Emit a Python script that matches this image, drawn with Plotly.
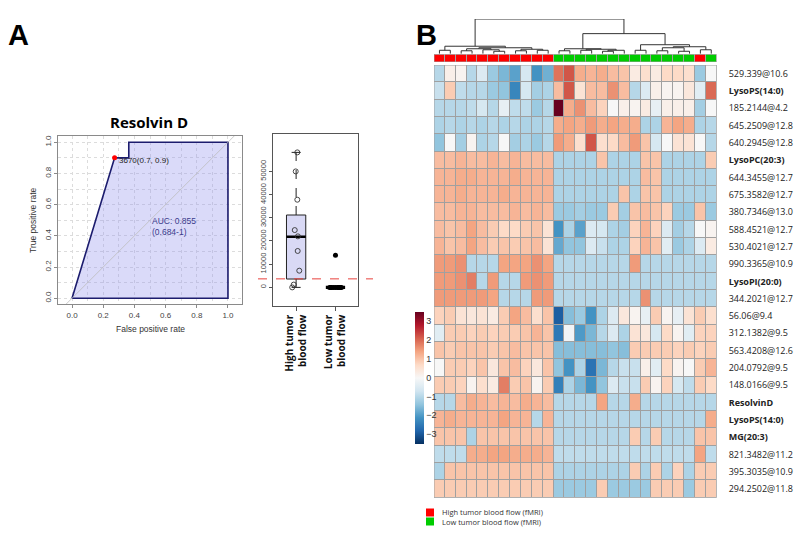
import plotly.graph_objects as go

W, H = 800, 539

# ---------------- Data: ROC (panel A) ----------------
roc_fpr = [0.0, 0.273, 0.364, 0.364, 1.0]
roc_tpr = [0.0, 0.9, 0.9, 1.0, 1.0]
best_fpr = 0.273
best_tpr = 0.9
best_label = "3670(0.7, 0.9)"
auc_text = "AUC: 0.855<br>(0.684-1)"
roc_ticks = [0.0, 0.2, 0.4, 0.6, 0.8, 1.0]

# ---------------- Data: box plot (panel A) ----------------
box_groups = ["High tumor<br>blood flow", "Low tumor<br>blood flow"]
high_stats = dict(lo=0, q1=3600, med=21800, q3=31200, hi=58200)
low_stats = dict(lo=0, q1=0, med=0, q3=0, hi=0)
high_values = [58200, 50000, 37800, 24700, 22000, 15700, 7200, 0, 1200]
high_jitter = [0.03, -0.01, 0.03, -0.035, 0.045, 0.04, 0.08, -0.1, -0.06]
low_values = [0, 0, 0, 0, 0, 0, 0, 0, 0, 0, 13800]
low_jitter = [-0.15, -0.1, -0.05, 0.0, 0.05, 0.1, 0.15, -0.12, 0.08, 0.12, 0.0]
threshold = 3670
box_yticks = [0, 10000, 20000, 30000, 40000, 50000]

# ---------------- Data: heatmap (panel B) ----------------
row_labels = ["529.339@10.6", "<b>LysoPS(14:0)</b>", "185.2144@4.2", "645.2509@12.8",
              "640.2945@12.8", "<b>LysoPC(20:3)</b>", "644.3455@12.7", "675.3582@12.7",
              "380.7346@13.0", "588.4521@12.7", "530.4021@12.7", "990.3365@10.9",
              "<b>LysoPI(20:0)</b>", "344.2021@12.7", "56.06@9.4", "312.1382@9.5",
              "563.4208@12.6", "204.0792@9.5", "148.0166@9.5", "<b>ResolvinD</b>",
              "<b>LysoPS(14:0)</b>", "<b>MG(20:3)</b>", "821.3482@11.2", "395.3035@10.9",
              "294.2502@11.8"]

sample_groups = ["High", "High", "High", "High", "High", "High", "High", "High", "High", "High", "High",
                 "Low", "Low", "Low", "Low", "Low", "Low", "Low", "Low", "Low", "Low", "Low", "Low", "Low",
                 "High", "Low"]

heat_values = [
    [-1.0, 0.2, 0.1, -1.0, -0.5, -1.3, -1.6, -1.9, -0.6, -2.1, -1.7, 1.9, 2.2, 1.3, 1.2, 1.3, 1.1, 1.0, 0.3, 0.6, 0.3, 0.7, 0.7, 0.6, -1.3, 0.0],
    [-0.8, 0.9, -0.9, -1.0, -1.0, -1.3, -1.4, -2.3, -0.6, -1.2, -1.1, 1.1, 2.2, 0.5, 1.1, 1.1, 1.6, 1.1, -1.0, -0.5, 0.2, 0.1, 0.1, 0.4, -0.4, 2.0],
    [-1.0, -1.0, -1.0, -0.9, -0.6, -1.0, -0.3, -0.9, -0.9, -1.3, -1.0, 3.5, 1.3, 1.6, 1.1, 0.8, 0.0, 0.2, 0.1, 0.3, -0.3, 0.2, 0.2, 0.2, -1.2, 0.0],
    [-1.1, -1.0, -1.1, -1.0, -1.1, -1.0, -1.1, -1.0, -1.1, -1.1, -1.0, 1.3, 1.4, 1.3, 1.5, 1.3, 1.4, 1.3, 1.3, -1.1, -1.1, 1.2, 1.4, 1.3, -1.1, -1.0],
    [-1.4, 0.0, -1.2, 0.1, -1.1, -1.0, 0.0, -1.2, -1.1, -1.3, -1.0, 1.5, 1.3, 0.6, 2.2, 0.6, 0.7, 1.1, 1.5, 1.0, -0.6, 0.0, 0.5, 0.5, 0.0, -1.0],
    [1.1, 1.1, 1.2, 1.1, 1.1, 1.2, 1.1, 1.2, 1.1, 1.1, 1.1, -1.1, -1.1, -1.1, -1.1, 1.0, -1.1, -1.1, -1.1, 1.0, 1.0, -1.1, -1.1, -1.1, -1.1, 0.9],
    [1.2, 1.2, 1.3, 1.3, 1.2, 1.2, 1.2, 1.3, 1.2, 1.2, 1.2, -1.1, -1.1, -1.1, -1.1, -1.1, -1.1, -1.1, -1.1, 1.1, 1.0, -1.1, -1.1, -1.1, -1.1, -1.1],
    [1.2, 1.2, 1.3, 1.2, 1.2, 1.2, 1.3, 1.2, 1.2, 1.2, 1.2, -1.1, -1.1, -1.1, -1.1, -1.1, -1.1, 1.0, -1.1, 1.0, 1.0, -1.1, -1.1, -1.1, -1.1, -1.1],
    [1.1, 1.1, 1.2, 1.2, 1.1, 1.1, 1.1, 1.2, 1.1, 1.2, 1.1, -1.3, -1.3, -1.2, -1.3, -1.3, 0.9, -1.2, 1.0, 1.1, 1.0, 0.8, -1.3, -1.3, 1.0, -1.3],
    [1.1, 1.0, 1.1, 1.4, 1.1, 0.9, 0.7, 0.7, 0.9, 1.0, 0.5, -2.1, -1.1, -1.9, -0.5, -0.6, -1.1, -1.2, 0.8, 1.2, 0.8, -0.5, -1.2, -1.0, 0.0, 0.1],
    [1.2, 1.0, 1.1, 1.4, 1.1, 0.9, 1.0, 0.9, 1.0, 1.1, 0.5, -1.8, -1.4, -1.4, -0.5, -0.8, -1.1, -1.1, 0.8, 1.2, 1.0, -0.4, -1.3, -1.1, -0.5, 0.3],
    [1.5, 1.5, 1.6, -1.0, -1.0, -1.0, 1.4, 1.4, 1.4, 1.6, 1.4, -1.0, -1.0, -1.0, -1.0, -1.0, -1.0, -1.0, 1.5, -1.0, -1.0, -1.0, -1.0, -1.0, -1.0, -1.0],
    [1.5, 1.5, 1.6, 1.8, -1.0, 1.5, -1.0, -1.0, 1.5, 1.6, 1.5, -1.0, -1.0, -1.0, -1.0, -1.0, -1.0, -1.0, -1.0, -1.0, -1.0, -1.0, -1.0, -1.0, -1.0, -1.0],
    [1.5, 1.5, 1.5, 1.5, 1.5, 1.4, -1.0, -1.0, -1.0, 1.5, 1.5, -1.0, -1.0, -1.0, -1.0, -1.0, -1.0, -1.0, -1.0, 1.6, -1.0, -1.0, -1.0, -1.0, -1.0, -1.0],
    [0.8, 0.9, 0.5, 0.4, 0.5, 0.3, 0.9, 1.4, 1.1, 0.6, 1.0, -2.9, -1.5, -1.3, -2.1, -1.1, -0.5, 0.4, 0.1, -0.3, 0.9, 0.1, -0.3, 0.5, 0.9, 0.6],
    [-0.4, 0.9, 0.9, 0.8, 0.9, 0.8, 0.9, 0.9, 1.0, 1.2, 1.0, -2.5, -0.1, -2.0, -1.6, -1.0, -0.5, -1.1, 0.5, 0.4, -0.6, 0.7, 0.1, -0.4, 0.8, 0.8],
    [1.0, 0.9, 1.0, 1.0, 1.0, 0.9, 1.0, 1.1, 1.0, 1.0, 1.0, -1.5, -1.5, -1.5, -1.5, -1.5, -1.4, -1.5, 0.9, 0.9, 0.9, 0.9, 0.8, 0.9, 0.8, 0.9],
    [0.0, 0.9, 0.9, 0.8, 1.0, 0.4, 1.0, 1.1, 0.8, 0.4, 1.0, -1.4, -2.1, -1.1, -2.6, -1.6, -1.0, -0.8, -0.8, 0.2, -0.4, 0.7, 0.1, 0.0, 0.9, 1.2],
    [0.9, 0.9, 0.8, 0.1, 0.6, 0.3, 1.8, 0.9, 1.0, 0.1, 0.9, -2.4, -1.1, -1.6, -2.1, -1.4, -0.5, -0.8, -0.8, 0.9, 0.1, 0.8, -0.6, -0.9, 0.9, 0.7],
    [-1.0, -1.0, 1.1, 1.3, 1.2, 1.1, 1.2, 1.1, 1.3, 1.2, 1.1, -1.0, -1.0, -1.0, -1.0, 1.4, -1.0, -1.0, 1.3, -1.0, -1.0, -1.0, -1.0, -1.0, -1.0, -1.0],
    [1.2, 1.3, 1.2, 1.2, 1.2, 1.2, 1.4, 1.2, 1.2, -1.0, 1.2, -1.0, -1.0, -1.0, -1.0, -1.0, -1.0, -1.0, -1.0, -1.0, -1.0, -1.0, -1.0, -1.0, -1.0, 1.3],
    [1.0, 1.0, 1.0, -1.1, 1.0, 1.0, 1.0, 1.0, 1.0, 1.0, 1.0, -1.0, -1.0, -1.0, -1.0, -1.0, -1.0, -1.0, 0.9, -1.0, 0.9, -1.0, -1.0, -1.0, 1.0, 1.0],
    [-0.9, -0.9, -0.9, 1.3, 1.3, 1.4, 1.4, 1.3, 1.3, 1.3, 1.2, -0.9, -0.9, -0.9, -0.9, -0.9, -0.9, -0.9, -0.9, -0.9, -0.9, -0.9, -0.9, -0.9, 1.4, -0.9],
    [-1.1, 1.0, 1.0, 1.0, 1.0, 1.0, 1.0, 1.0, 1.0, 1.0, 1.0, -1.1, -1.1, -1.1, -1.1, -1.1, -1.1, -1.1, 0.9, -1.1, 0.9, -1.1, 0.8, -1.1, 0.9, 0.9],
    [0.9, 0.9, 0.9, 0.9, 0.9, 0.9, 0.9, 0.9, 0.9, 0.9, 0.9, -1.3, -1.3, -1.3, -1.3, 0.9, -1.3, -1.3, -1.3, -1.3, 0.9, 0.9, 0.9, -1.3, 0.9, 0.9],
]

# column dendrogram: (child_a, child_b, merge height); leaves are 0..25, new nodes 26, 27, ...
dendro_merges = [
    (0, 1, 3.5), (2, 3, 3.0), (5, 6, 2.5), (4, 28, 4.0), (7, 8, 3.0), (9, 10, 3.5),
    (27, 29, 5.0), (30, 31, 4.5), (32, 33, 6.0), (26, 34, 7.5),
    (11, 12, 3.0), (13, 14, 3.5), (15, 16, 2.5), (38, 17, 3.5), (37, 39, 4.5), (36, 40, 5.0),
    (18, 19, 3.5), (20, 21, 3.0), (22, 23, 2.5), (43, 44, 6.0), (24, 25, 4.0), (45, 46, 7.0),
    (42, 47, 9.0), (41, 48, 20.0), (35, 49, 34.5),
]

colorbar_ticks = [-3, -2, -1, 0, 1, 2, 3]
legend_labels = ["High tumor blood flow (fMRI)", "Low tumor blood flow (fMRI)"]
group_colors = {"High": "#FF0000", "Low": "#00CC00"}

# ---------------- helpers ----------------
def px_x(p):
    return p / W

def px_y(p):
    return 1 - p / H

RDBU = ["#053061", "#2166AC", "#4393C3", "#92C5DE", "#D1E5F0", "#F7F7F7",
        "#FDDBC7", "#F4A582", "#D6604D", "#B2182B", "#67001F"]
rdbu_scale = [[i / (len(RDBU) - 1), c] for i, c in enumerate(RDBU)]

SANS = "Liberation Sans, Arial, sans-serif"
CAL = "Open Sans, sans-serif"
GRID = "#dcdcdc"

fig = go.Figure()

# ---------------- ROC ----------------
poly_x = roc_fpr + [roc_fpr[-1], roc_fpr[0]]
poly_y = roc_tpr + [0.0, 0.0]
fig.add_trace(go.Scatter(x=poly_x, y=poly_y, mode="lines", fill="toself",
                         fillcolor="rgba(150,150,238,0.35)",
                         line=dict(color="#1c1c6e", width=1.6),
                         xaxis="x", yaxis="y", hoverinfo="skip"))
fig.add_trace(go.Scatter(x=[-0.3, 1.3], y=[-0.3, 1.3], mode="lines",
                         line=dict(color="#bdbdbd", width=0.8),
                         xaxis="x", yaxis="y", hoverinfo="skip"))
fig.add_trace(go.Scatter(x=[best_fpr], y=[best_tpr], mode="markers",
                         marker=dict(color="#ff0000", size=5),
                         xaxis="x", yaxis="y", hoverinfo="skip"))

# ---------------- box plot ----------------
bw = 0.245
cap = 0.115
hs = high_stats
fig.add_trace(go.Scatter(x=[-bw, bw, bw, -bw, -bw], y=[hs["q1"], hs["q1"], hs["q3"], hs["q3"], hs["q1"]],
                         mode="lines", fill="toself", fillcolor="#d9d9f5",
                         line=dict(color="#222", width=1), xaxis="x2", yaxis="y2", hoverinfo="skip"))
fig.add_trace(go.Scatter(x=[0, 0, None, 0, 0], y=[hs["q3"], hs["hi"], None, hs["q1"], hs["lo"]],
                         mode="lines", line=dict(color="#222", width=1, dash="dash"),
                         xaxis="x2", yaxis="y2", hoverinfo="skip"))
fig.add_trace(go.Scatter(x=[-cap, cap, None, -cap, cap], y=[hs["hi"], hs["hi"], None, hs["lo"], hs["lo"]],
                         mode="lines", line=dict(color="#222", width=1),
                         xaxis="x2", yaxis="y2", hoverinfo="skip"))
fig.add_trace(go.Scatter(x=[-bw, bw], y=[hs["med"], hs["med"]], mode="lines",
                         line=dict(color="#000", width=2.6), xaxis="x2", yaxis="y2", hoverinfo="skip"))
ls = low_stats
fig.add_trace(go.Scatter(x=[1 - bw, 1 + bw], y=[ls["med"], ls["med"]], mode="lines",
                         line=dict(color="#000", width=3.2), xaxis="x2", yaxis="y2", hoverinfo="skip"))
fig.add_trace(go.Scatter(x=[j for j in high_jitter], y=high_values, mode="markers",
                         marker=dict(symbol="circle-open", size=5, color="#333", line=dict(width=0.9)),
                         xaxis="x2", yaxis="y2", hoverinfo="skip"))
fig.add_trace(go.Scatter(x=[1 + j for j in low_jitter], y=low_values, mode="markers",
                         marker=dict(symbol="circle", size=5, color="#000"),
                         xaxis="x2", yaxis="y2", hoverinfo="skip"))

# ---------------- dendrogram ----------------
n_cols = len(sample_groups)
pos = {i: float(i) for i in range(n_cols)}
hgt = {i: 0.0 for i in range(n_cols)}
dx, dy = [], []
node = n_cols
for a, b, h in dendro_merges:
    dx += [pos[a], pos[a], pos[b], pos[b], None]
    dy += [hgt[a], h, h, hgt[b], None]
    pos[node] = (pos[a] + pos[b]) / 2
    hgt[node] = h
    node += 1
fig.add_trace(go.Scatter(x=dx, y=dy, mode="lines", line=dict(color="#333", width=1),
                         xaxis="x3", yaxis="y3", hoverinfo="skip"))

# ---------------- annotation bar ----------------
grp_code = [0 if g == "High" else 1 for g in sample_groups]
fig.add_trace(go.Heatmap(z=[grp_code], x=list(range(n_cols)), y=[0],
                         colorscale=[[0, group_colors["High"]], [0.5, group_colors["High"]],
                                     [0.5, group_colors["Low"]], [1, group_colors["Low"]]],
                         zmin=0, zmax=1, showscale=False, xgap=1, ygap=0,
                         xaxis="x4", yaxis="y4", hoverinfo="skip"))

# ---------------- heatmap ----------------
n_rows = len(row_labels)
fig.add_trace(go.Heatmap(z=heat_values, x=list(range(n_cols)), y=list(range(n_rows)),
                         colorscale=rdbu_scale, zmin=-3.5, zmax=3.5, xgap=1, ygap=1,
                         xaxis="x5", yaxis="y5", hoverinfo="skip",
                         colorbar=dict(x=px_x(415), xanchor="left", xpad=0, ypad=0,
                                       y=px_y(377.5), yanchor="middle",
                                       len=131.6 / H, lenmode="fraction", thickness=9,
                                       outlinewidth=0, tickvals=colorbar_ticks, ticks="",
                                       tickfont=dict(family=SANS, size=9, color="#333"))))

# ---------------- layout ----------------
hx0, hx1 = px_x(434), px_x(716.7)
hide = dict(visible=False)

shapes = [
    dict(type="rect", xref="x5", yref="y5", x0=-0.5, x1=n_cols - 0.5, y0=-0.5, y1=n_rows - 0.5,
         fillcolor="#a0a0a0", line=dict(width=0), layer="below"),
    dict(type="rect", xref="x5", yref="y5", x0=-0.5, x1=n_cols - 0.5, y0=-0.5, y1=n_rows - 0.5,
         fillcolor="rgba(0,0,0,0)", line=dict(color="#a0a0a0", width=1), layer="above"),
    dict(type="rect", xref="x4", yref="y4", x0=-0.5, x1=n_cols - 0.5, y0=-0.5, y1=0.5,
         fillcolor="#a0a0a0", line=dict(width=0), layer="below"),
    dict(type="rect", xref="x4", yref="y4", x0=-0.5, x1=n_cols - 0.5, y0=-0.5, y1=0.5,
         fillcolor="rgba(0,0,0,0)", line=dict(color="#a0a0a0", width=1), layer="above"),
    dict(type="line", xref="paper", yref="y2", x0=px_x(258), x1=px_x(373), y0=threshold, y1=threshold,
         line=dict(color="#e8413c", width=1, dash="dash")),
    dict(type="rect", xref="paper", yref="paper", x0=px_x(426), x1=px_x(434), y0=px_y(516.5), y1=px_y(508.5),
         fillcolor=group_colors["High"], line=dict(width=0)),
    dict(type="rect", xref="paper", yref="paper", x0=px_x(426), x1=px_x(434), y0=px_y(525.5), y1=px_y(517.5),
         fillcolor=group_colors["Low"], line=dict(width=0)),
]

def ptext(text, x, y, size, family=SANS, color="#000", **kw):
    d = dict(text=text, x=px_x(x), y=px_y(y), xref="paper", yref="paper", showarrow=False,
             xanchor="center", yanchor="middle", font=dict(family=family, size=size, color=color))
    d.update(kw)
    return d

annotations = [
    ptext("<b>A</b>", 18, 35, 29),
    ptext("<b>B</b>", 427, 35, 29),
    ptext("<b>Resolvin D</b>", 148.5, 121.5, 15, family=CAL),
    ptext("False positive rate", 150, 329, 8.5, color="#333"),
    ptext("True positive rate", 33, 220, 8.5, color="#333", textangle=-90),
    dict(text=best_label, x=best_fpr, y=best_tpr, xref="x", yref="y", showarrow=False,
         xanchor="left", yanchor="top", xshift=2, yshift=4,
         font=dict(family=SANS, size=8, color="#222")),
    dict(text=auc_text, x=0.5, y=0.463, xref="x", yref="y", showarrow=False, align="left",
         xanchor="left", yanchor="middle", font=dict(family=SANS, size=8.5, color="#3a3a8c")),
    ptext("<br>".join(legend_labels), 441, 517, 7.5, family=CAL, color="#333",
          xanchor="left", align="left", borderpad=0),
]

roc_axis = dict(range=[-0.09, 1.09], tickvals=roc_ticks, ticktext=["0.0", "0.2", "0.4", "0.6", "0.8", "1.0"],
                showline=True, mirror=True, automargin=False,
                linecolor="#8a8a8a", linewidth=1, ticks="outside", ticklen=3, tickcolor="#8a8a8a",
                showgrid=True, gridcolor=GRID, griddash="dot", gridwidth=1, zeroline=False,
                tickfont=dict(family=SANS, size=8, color="#444"),
                minor=dict(dtick=0.1, tick0=0, showgrid=True, gridcolor=GRID, griddash="dot", ticks=""))

fig.update_layout(
    width=W, height=H, margin=dict(l=0, r=0, t=0, b=0, autoexpand=False),
    paper_bgcolor="white", plot_bgcolor="white", showlegend=False,
    xaxis=dict(domain=[px_x(58), px_x(242)], anchor="y", **roc_axis),
    yaxis=dict(domain=[px_y(304), px_y(136)], anchor="x", tickangle=-90,
               **{**roc_axis, "range": [-0.037, 1.04]}),
    xaxis2=dict(domain=[px_x(273.3), px_x(358.3)], anchor="y2", range=[-0.58, 1.58], automargin=False,
                tickvals=[0, 1], ticktext=["<b>" + g + "</b>" for g in box_groups], tickangle=-90,
                ticks="outside", ticklen=4, tickcolor="#555", showline=True, mirror=True,
                linecolor="#555", showgrid=False, zeroline=False,
                tickfont=dict(family=CAL, size=10, color="#111")),
    yaxis2=dict(domain=[px_y(305.7), px_y(134.3)], anchor="x2", range=[-7900, 66000], automargin=False,
                tickvals=box_yticks, ticktext=[str(v) for v in box_yticks], tickangle=-90,
                ticks="outside", ticklen=3, tickcolor="#555",
                showline=True, mirror=True, linecolor="#555", showgrid=False, zeroline=False,
                tickfont=dict(family=SANS, size=7.5, color="#444")),
    xaxis3=dict(domain=[hx0, hx1], anchor="y3", range=[-0.5, n_cols - 0.5], automargin=False, **hide),
    yaxis3=dict(domain=[px_y(53.8), px_y(19)], anchor="x3", range=[0, 34.5], automargin=False, **hide),
    xaxis4=dict(domain=[hx0, hx1], anchor="y4", range=[-0.5, n_cols - 0.5], automargin=False, **hide),
    yaxis4=dict(domain=[px_y(62), px_y(54.3)], anchor="x4", range=[-0.5, 0.5], automargin=False, **hide),
    xaxis5=dict(domain=[hx0, hx1], anchor="y5", range=[-0.5, n_cols - 0.5], automargin=False, **hide),
    yaxis5=dict(domain=[px_y(497.7), px_y(65)], anchor="x5", range=[n_rows - 0.5, -0.5], automargin=False,
                side="right", tickvals=list(range(n_rows)), ticktext=row_labels, ticks="",
                showgrid=False, zeroline=False, showline=False, ticklabelstandoff=11,
                tickfont=dict(family=CAL, size=9, color="#222")),
    shapes=shapes, annotations=annotations,
)

fig.write_html("out.html", config={"displayModeBar": False},
               post_script="document.body.style.margin='0px';")
